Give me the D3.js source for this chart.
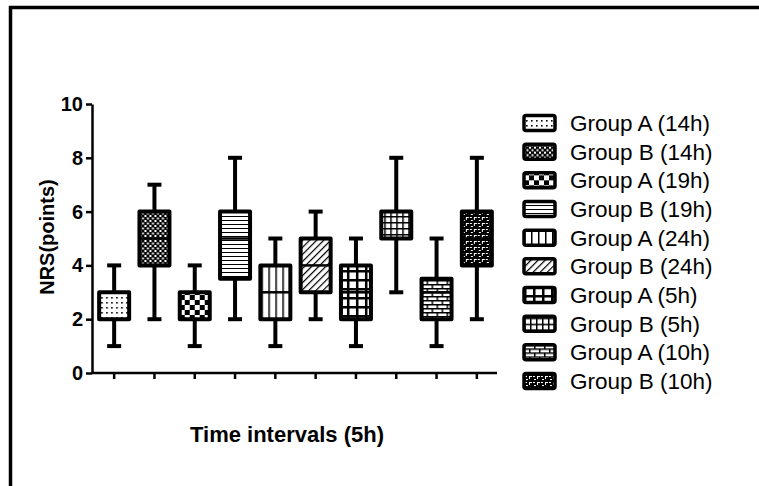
<!DOCTYPE html>
<html>
<head>
<meta charset="utf-8">
<script src="https://cdn.jsdelivr.net/npm/d3@7"></script>
<style>
  html, body { margin: 0; padding: 0; overflow: hidden; background: #fff; }
  svg { display: block; overflow: hidden; }
  text { font-family: "Liberation Sans", Arial, sans-serif; }
</style>
</head>
<body>
<svg id="chart" width="759" height="486"></svg>
<script>
// groups in drawing order
const groups = ["Group A (14h)", "Group B (14h)", "Group A (19h)", "Group B (19h)", "Group A (24h)",
                "Group B (24h)", "Group A (5h)", "Group B (5h)", "Group A (10h)", "Group B (10h)"]
const mins    = [1, 2, 1, 2,   1, 2, 1, 3, 1,   2]
const q1s     = [2, 4, 2, 3.5, 2, 3, 2, 5, 2,   4]
const medians = [3, 5, 3, 5,   3, 4, 3, 6, 3,   5]
const q3s     = [3, 6, 3, 6,   4, 5, 4, 6, 3.5, 6]
const maxs    = [4, 7, 4, 8,   5, 6, 5, 8, 5,   8]
const yTicks  = [0, 2, 4, 6, 8, 10]
const patternIds = ["dots", "fineCheck", "bigCheck", "hlines", "vlines", "diag", "bigGrid", "fineGrid", "bricks", "darkDash"]

const data = groups.map(function(g, i){
    return {name: g, min: mins[i], q1: q1s[i], med: medians[i], q3: q3s[i], max: maxs[i], pat: patternIds[i]}
})

const svg = d3.select('#chart')
const defs = svg.append('defs')

function pattern(id, w, h){
    return defs.append('pattern').attr('id', id).attr('patternUnits', 'userSpaceOnUse')
        .attr('width', w).attr('height', h)
}
function bg(p, w, h, c){ p.append('rect').attr('width', w).attr('height', h).attr('fill', c) }

// dots
let p = pattern('dots', 5, 5); bg(p, 5, 5, '#fff')
p.append('rect').attr('x', 2).attr('y', 2).attr('width', 1.6).attr('height', 1.6).attr('fill', '#000')
// fine checker
p = pattern('fineCheck', 5, 5); bg(p, 5, 5, '#000')
p.append('rect').attr('x', 0).attr('y', 0).attr('width', 2).attr('height', 2).attr('fill', '#fff')
p.append('rect').attr('x', 2.5).attr('y', 2.5).attr('width', 2).attr('height', 2).attr('fill', '#fff')
// big checker
p = pattern('bigCheck', 10, 10); bg(p, 10, 10, '#fff')
p.append('rect').attr('x', 0).attr('y', 0).attr('width', 5).attr('height', 5).attr('fill', '#000')
p.append('rect').attr('x', 5).attr('y', 5).attr('width', 5).attr('height', 5).attr('fill', '#000')
// horizontal lines
p = pattern('hlines', 4, 4); bg(p, 4, 4, '#fff')
p.append('rect').attr('y', 0).attr('width', 4).attr('height', 1).attr('fill', '#000')
// vertical lines
p = pattern('vlines', 7, 7); bg(p, 7, 7, '#fff')
p.append('rect').attr('x', 0).attr('width', 1.5).attr('height', 7).attr('fill', '#000')
// diagonal (bottom-left to top-right)
p = pattern('diag', 5, 5).attr('patternTransform', 'rotate(45)'); bg(p, 5, 5, '#fff')
p.append('rect').attr('x', 0).attr('width', 1.2).attr('height', 5).attr('fill', '#000')
// big grid
p = pattern('bigGrid', 9, 9); bg(p, 9, 9, '#fff')
p.append('rect').attr('x', 0).attr('width', 2.5).attr('height', 9).attr('fill', '#000')
p.append('rect').attr('y', 0).attr('width', 9).attr('height', 2.5).attr('fill', '#000')
// fine grid
p = pattern('fineGrid', 6, 6); bg(p, 6, 6, '#fff')
p.append('rect').attr('x', 0).attr('width', 1.5).attr('height', 6).attr('fill', '#000')
p.append('rect').attr('y', 0).attr('width', 6).attr('height', 1.5).attr('fill', '#000')
// bricks
p = pattern('bricks', 10, 8); bg(p, 10, 8, '#fff')
p.append('rect').attr('y', 0).attr('width', 10).attr('height', 1.5).attr('fill', '#000')
p.append('rect').attr('y', 4).attr('width', 10).attr('height', 1.5).attr('fill', '#000')
p.append('rect').attr('x', 0).attr('y', 0).attr('width', 1.5).attr('height', 4).attr('fill', '#000')
p.append('rect').attr('x', 5).attr('y', 4).attr('width', 1.5).attr('height', 4).attr('fill', '#000')
// dark with white dashes
p = pattern('darkDash', 8, 6); bg(p, 8, 6, '#000')
p.append('rect').attr('x', 1).attr('y', 1).attr('width', 2).attr('height', 1).attr('fill', '#fff')
p.append('rect').attr('x', 5).attr('y', 1).attr('width', 1).attr('height', 3).attr('fill', '#fff')
p.append('rect').attr('x', 6).attr('y', 1).attr('width', 2).attr('height', 1).attr('fill', '#fff')
p.append('rect').attr('x', 2).attr('y', 4).attr('width', 2).attr('height', 1).attr('fill', '#fff')

// frame: left and top edges only
svg.append('line').attr('x1', 10.5).attr('x2', 10.5).attr('y1', 6).attr('y2', 486)
    .attr('stroke', '#000').attr('stroke-width', 3.5)
svg.append('line').attr('x1', 9).attr('x2', 759).attr('y1', 7.5).attr('y2', 7.5)
    .attr('stroke', '#000').attr('stroke-width', 3.5)

const y = d3.scaleLinear().domain([0, 10]).range([373, 104])
const x = d3.scaleBand().domain(groups).range([94, 497])

// y axis
const yAxis = svg.append('g').attr('transform', 'translate(92,0)')
    .call(d3.axisLeft(y).tickValues(yTicks).tickSize(6).tickSizeOuter(0))
yAxis.selectAll('path, line').attr('stroke', '#000').attr('stroke-width', 2.5)
yAxis.selectAll('text').attr('font-size', 20).attr('font-weight', 'bold').attr('fill', '#000')
    .attr('font-family', '"Liberation Sans", Arial, sans-serif')

// x axis
const xAxis = svg.append('g').attr('transform', 'translate(0,373)')
    .call(d3.axisBottom(x).tickSize(6).tickSizeOuter(0).tickFormat(''))
xAxis.select('.domain').attr('d', 'M92,0H497')
xAxis.selectAll('path, line').attr('stroke', '#000').attr('stroke-width', 2.5)

// axis titles
svg.append('text').attr('x', 287).attr('y', 442).attr('text-anchor', 'middle')
    .attr('font-size', 22).attr('font-weight', 'bold').text('Time intervals (5h)')
svg.append('text').attr('transform', 'translate(54,237) rotate(-90)').attr('text-anchor', 'middle')
    .attr('font-size', 20).attr('font-weight', 'bold').text('NRS(points)')

// boxes
const boxW = 30, capW = 14
const box = svg.append('g').selectAll('g').data(data).join('g')
    .attr('transform', function(d){ return 'translate(' + (x(d.name) + x.bandwidth() / 2) + ',0)' })

box.append('line').attr('x1', 0).attr('x2', 0)
    .attr('y1', function(d){ return y(d.min) }).attr('y2', function(d){ return y(d.max) })
    .attr('stroke', '#000').attr('stroke-width', 4)
box.selectAll('.cap').data(function(d){ return [d.min, d.max] }).join('line')
    .attr('class', 'cap')
    .attr('x1', -capW / 2).attr('x2', capW / 2)
    .attr('y1', function(v){ return y(v) }).attr('y2', function(v){ return y(v) })
    .attr('stroke', '#000').attr('stroke-width', 4)
box.append('rect')
    .attr('x', -boxW / 2).attr('width', boxW)
    .attr('y', function(d){ return y(d.q3) })
    .attr('height', function(d){ return y(d.q1) - y(d.q3) })
    .attr('fill', function(d){ return 'url(#' + d.pat + ')' })
    .attr('stroke', '#000').attr('stroke-width', 4).attr('stroke-linejoin', 'round')
box.append('line')
    .attr('x1', -boxW / 2).attr('x2', boxW / 2)
    .attr('y1', function(d){ return y(d.med) }).attr('y2', function(d){ return y(d.med) })
    .attr('stroke', '#000').attr('stroke-width', 2.5)

// legend
const legend = svg.append('g').selectAll('g').data(data).join('g')
    .attr('transform', function(d, i){ return 'translate(524,' + (123 + i * 28.67) + ')' })
legend.append('rect').attr('x', 0).attr('y', -7.5).attr('width', 31).attr('height', 15)
    .attr('rx', 2)
    .attr('fill', function(d){ return 'url(#' + d.pat + ')' })
    .attr('stroke', '#000').attr('stroke-width', 3.5)
legend.append('text').attr('x', 46).attr('y', 0).attr('dy', '0.36em')
    .attr('font-size', 22.5).text(function(d){ return d.name })
</script>
</body>
</html>
